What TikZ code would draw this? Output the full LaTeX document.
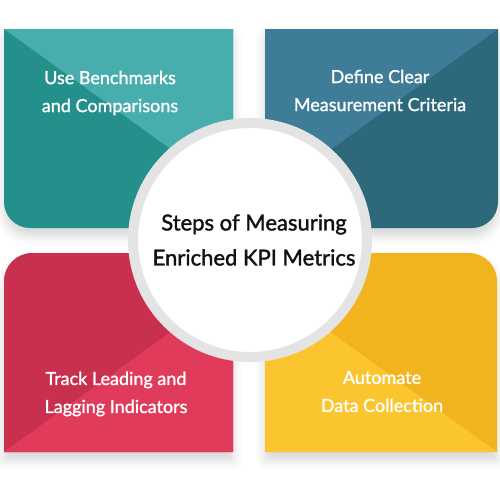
\documentclass[tikz,border=0pt]{standalone}
\usepackage{fontspec}
\setmainfont{Lato}
\newfontfamily\latomed{Lato}[FakeBold=1.2]
\newfontfamily\latosemi{Lato}[FakeBold=1.6]
\usetikzlibrary{shadows.blur}

\definecolor{tealdark}{HTML}{23908B}
\definecolor{teallight}{HTML}{48AEAD}
\definecolor{petrollight}{HTML}{3E7C97}
\definecolor{petroldark}{HTML}{2E687B}
\definecolor{crimsondark}{HTML}{C9304F}
\definecolor{crimsonlight}{HTML}{E13B5B}
\definecolor{amberdark}{HTML}{F1B41F}
\definecolor{amberlight}{HTML}{FBC52F}
\definecolor{ringgray}{HTML}{E4E4E4}

\begin{document}
\begin{tikzpicture}[x=1pt,y=-1pt,
  panelshadow/.style={blur shadow={shadow xshift=0pt,shadow yshift=-8pt,shadow blur radius=9pt,shadow opacity=16}},
  steptext/.style={text=white,align=center,font=\latomed\fontsize{18}{28}\selectfont}]
\useasboundingbox (0,0) rectangle (500,480);

% top left
\fill[tealdark,panelshadow] (4,29) -- (233,29) -- (233,228) -- (30,228) arc[start angle=90,end angle=180,radius=26] -- cycle;
\fill[teallight] (4,29) -- (233,29) -- (233,194) -- cycle;
% top right
\fill[petroldark,panelshadow] (265,29) -- (498,29) -- (498,202) arc[start angle=0,end angle=90,radius=26] -- (265,228) -- cycle;
\fill[petrollight] (498,29) -- (265,29) -- (265,197) -- cycle;
% bottom left
\fill[crimsondark,panelshadow] (4,281) arc[start angle=180,end angle=270,radius=28] -- (233,253) -- (233,452) -- (4,452) -- cycle;
\fill[crimsonlight] (4,452) -- (233,452) -- (233,287) -- cycle;
% bottom right
\fill[amberdark,panelshadow] (265,253) -- (469,253) arc[start angle=270,end angle=360,radius=28] -- (497,452) -- (265,452) -- cycle;
\fill[amberlight] (497,452) -- (265,452) -- (265,285) -- cycle;

\node[steptext] (bench) at (110,93) {Use Benchmarks\\and Comparisons};
\node[steptext] (criteria) at (380,90.5) {Define Clear\\Measurement Criteria};
\node[steptext] (track) at (116,394) {Track Leading and\\Lagging Indicators};
\node[steptext] (automate) at (382,391.5) {Automate\\Data Collection};

\node[circle,fill=white,draw=ringgray,line width=10pt,minimum size=234pt,inner sep=0pt,
  align=center,text=black!93,font=\latosemi\fontsize{22}{35}\selectfont] (hub) at (250,240)
  {\hspace*{8pt}Steps of Measuring\\\hspace*{8pt}Enriched KPI Metrics};
\end{tikzpicture}
\end{document}
